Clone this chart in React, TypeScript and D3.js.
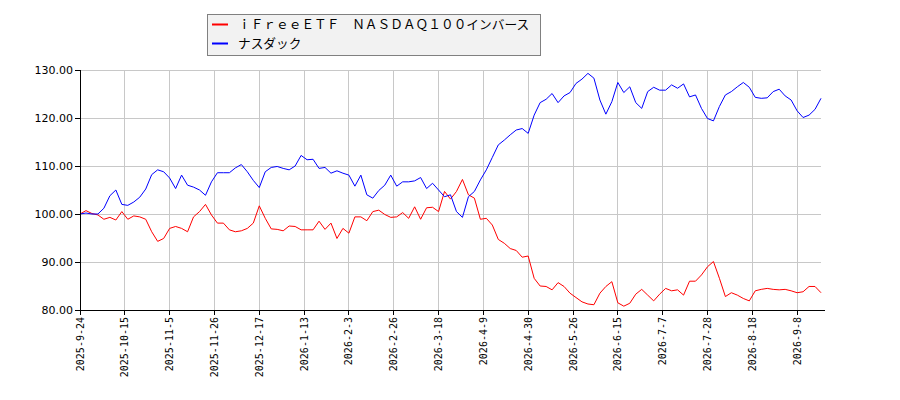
import * as React from "react";
import { line, scaleLinear } from "d3";

// one value every 2 trading days, 2025-9-24 .. 2026-9-17
const inverseEtf = [
  100.0, 100.7, 100.1, 99.8, 98.9, 99.3, 98.75, 100.5, 98.9, 99.6,
  99.4, 98.9, 96.3, 94.3, 94.9, 97.0, 97.4, 97.0, 96.3, 99.4,
  100.5, 102.0, 99.8, 98.1, 98.1, 96.7, 96.3, 96.5, 97.0, 98.1,
  101.7, 99.1, 96.9, 96.8, 96.5, 97.5, 97.4, 96.7, 96.7, 96.7,
  98.5, 96.8, 98.1, 94.9, 97.0, 96.0, 99.4, 99.4, 98.6, 100.5,
  100.8, 99.9, 99.3, 99.4, 100.3, 99.1, 101.5, 98.9, 101.3, 101.4,
  100.5, 104.7, 103.1, 104.7, 107.2, 104.0, 103.3, 98.9, 99.1, 97.7,
  94.7, 93.9, 92.8, 92.4, 91.0, 91.25, 86.6, 85.0, 84.9, 84.2,
  85.7, 84.9, 83.5, 82.6, 81.7, 81.25, 81.1, 83.5, 84.9, 85.9,
  81.5, 80.8, 81.4, 83.3, 84.3, 83.1, 81.9, 83.3, 84.5, 84.0,
  84.2, 83.1, 86.0, 86.0, 87.3, 89.0, 90.1, 86.6, 82.8, 83.6,
  83.1, 82.4, 81.9, 84.0, 84.3, 84.5, 84.3, 84.2, 84.3, 84.0,
  83.6, 83.8, 84.9, 84.9, 83.6,
];

const nasdaq = [
  100.0, 100.2, 100.0, 100.0, 101.2, 103.8, 105.0, 102.0, 101.8, 102.5,
  103.5, 105.2, 108.2, 109.2, 108.8, 107.5, 105.3, 108.1, 106.0, 105.6,
  105.0, 103.9, 106.7, 108.6, 108.6, 108.6, 109.6, 110.3, 108.8, 107.0,
  105.5, 108.8, 109.7, 109.9, 109.5, 109.2, 110.0, 112.2, 111.3, 111.4,
  109.5, 109.7, 108.5, 109.0, 108.5, 108.1, 105.8, 108.1, 104.0, 103.3,
  104.9, 106.0, 108.1, 105.8, 106.7, 106.7, 106.9, 107.6, 105.3, 106.4,
  105.0, 103.6, 104.0, 100.5, 99.3, 103.6, 104.7, 107.1, 109.2, 111.8,
  114.4, 115.4, 116.5, 117.5, 117.8, 116.8, 120.6, 123.2, 123.9, 125.1,
  123.2, 124.6, 125.3, 127.2, 128.1, 129.3, 128.3, 123.75, 120.8, 123.4,
  127.4, 125.3, 126.5, 123.2, 122.0, 125.5, 126.4, 125.8, 125.8, 126.9,
  126.2, 127.1, 124.4, 124.8, 122.0, 119.9, 119.4, 122.4, 124.8, 125.5,
  126.5, 127.4, 126.4, 124.3, 124.1, 124.2, 125.5, 126.0, 124.6, 123.75,
  121.5, 120.1, 120.6, 121.8, 124.1,
];

const dateLabels = [
  "2025-9-24", "2025-10-15", "2025-11-5", "2025-11-26", "2025-12-17",
  "2026-1-13", "2026-2-3", "2026-2-26", "2026-3-18", "2026-4-9",
  "2026-4-30", "2026-5-26", "2026-6-15", "2026-7-7", "2026-7-28",
  "2026-8-18", "2026-9-8",
];

const yTicks = [80, 90, 100, 110, 120, 130];

const seriesNames = ["ｉＦｒｅｅＥＴＦ　ＮＡＳＤＡＱ１００インバース", "ナスダック"];
const seriesColors = ["#ff0000", "#0000ff"];

const DAY_STEP = 2;
const TICK_EVERY = 15;
const LAST_DAY = 248;

export default function App() {
  const left = 80, right = 821, top = 70, bottom = 310;

  const x = scaleLinear().domain([0, LAST_DAY]).range([left, right]);
  const y = scaleLinear().domain([80, 130]).range([bottom, top]);

  const path = line<number>()
    .x((_, i) => x(i * DAY_STEP))
    .y((d) => y(d));

  return (
    <div style={{ position: "absolute", left: 0, top: 0 }}>
      <svg width={900} height={400} style={{ display: "block", background: "#fff" }}>
        {/* grid */}
        <g stroke="#c8c8c8" strokeWidth={1} shapeRendering="crispEdges">
          {yTicks.map((t) => (
            <line key={t} x1={left} x2={right} y1={y(t)} y2={y(t)} />
          ))}
          {dateLabels.map((_, i) => (
            <line key={i} x1={x(i * TICK_EVERY)} x2={x(i * TICK_EVERY)} y1={top} y2={bottom} />
          ))}
        </g>

        {/* series */}
        {[inverseEtf, nasdaq].map((s, i) => (
          <path key={i} d={path(s) || ""} fill="none" stroke={seriesColors[i]} strokeWidth={1} />
        ))}

        {/* axes */}
        <g stroke="#000" strokeWidth={1} shapeRendering="crispEdges">
          <line x1={left} x2={left} y1={top} y2={bottom} />
          <line x1={left} x2={right + 4} y1={bottom} y2={bottom} />
          {yTicks.map((t) => (
            <line key={t} x1={left - 5} x2={left} y1={y(t)} y2={y(t)} />
          ))}
          {dateLabels.map((_, i) => (
            <line key={i} x1={x(i * TICK_EVERY)} x2={x(i * TICK_EVERY)} y1={bottom} y2={bottom + 5} />
          ))}
        </g>

        <g fontFamily="DejaVu Sans" fontSize={11} fill="#000" textAnchor="end">
          {yTicks.map((t) => (
            <text key={t} x={left - 7} y={y(t)} dy="0.35em">
              {t.toFixed(2)}
            </text>
          ))}
        </g>

        <g fontFamily="DejaVu Sans Mono" fontSize={10} fill="#000" textAnchor="end">
          {dateLabels.map((d, i) => (
            <text
              key={d}
              transform={`translate(${x(i * TICK_EVERY)},${bottom + 7}) rotate(-90)`}
              dy="0.35em"
            >
              {d}
            </text>
          ))}
        </g>

        {/* legend */}
        <rect x={207.5} y={14.5} width={333} height={41} fill="#f2f2f2" stroke="#808080" />
        {seriesNames.map((n, i) => (
          <g key={n}>
            <line x1={212} x2={228} y1={24.5 + i * 19} y2={24.5 + i * 19} stroke={seriesColors[i]} strokeWidth={2} />
            <text
              x={238}
              y={24.5 + i * 19}
              dy="0.35em"
              fontFamily="'Noto Sans CJK JP'"
              fontSize={12.7}
              fill="#000"
            >
              {n}
            </text>
          </g>
        ))}
      </svg>
    </div>
  );
}
